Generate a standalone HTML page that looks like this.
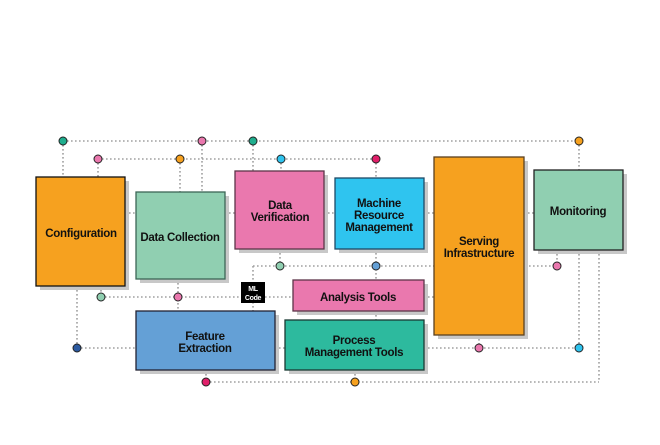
<!DOCTYPE html>
<html><head><meta charset="utf-8"><style>
html,body{margin:0;padding:0;background:#fff;}
svg text{font-family:"Liberation Sans",sans-serif;font-weight:bold;font-size:11.5px;fill:#111;text-anchor:middle;letter-spacing:-0.3px}
</style></head><body>
<svg width="660" height="440" viewBox="0 0 660 440" xmlns="http://www.w3.org/2000/svg">
<g stroke="#a0a0a0" stroke-width="1.6" stroke-dasharray="1.6 2.4" fill="none">
<path d="M63 141H579M98 159H376"/>
<path d="M63 141V177M98 159V177M180 159V192M202 141V192M253 141V171M281 159V171M376 159V178M579 141V170"/>
<path d="M125 213H136M225 213H235M324 213H335M424 213H434M524 213H534"/>
<path d="M253 266H557M253 266V311M280 249V266M376 249V280M557 250V266"/>
<path d="M101 297H293M101 286V297M178 279V311M424 297H434"/>
<path d="M77 348H136M77 286V348M275 348H285M424 348H579M479 335V348M579 250V348"/>
<path d="M206 382H599M599 250V382M206 370V382M355 370V382M376 311V320"/>
</g>
<g fill="#c8c8c8">
<rect x="40" y="181" width="89" height="109"/>
<rect x="140" y="196" width="89" height="87"/>
<rect x="239" y="175" width="89" height="78"/>
<rect x="339" y="182" width="89" height="71"/>
<rect x="438" y="161" width="90" height="178"/>
<rect x="538" y="174" width="89" height="80"/>
<rect x="297" y="284" width="131" height="31"/>
<rect x="140" y="315" width="139" height="59"/>
<rect x="289" y="324" width="139" height="50"/>
</g>
<g stroke="#333" stroke-width="1.3">
<rect x="36" y="177" width="89" height="109" fill="#f6a11f" stroke="#111"/>
<rect x="136" y="192" width="89" height="87" fill="#90cfb1" stroke="#3d6656"/>
<rect x="235" y="171" width="89" height="78" fill="#ea78ae" stroke="#5c3448"/>
<rect x="335" y="178" width="89" height="71" fill="#2fc4ef" stroke="#1d4a66"/>
<rect x="434" y="157" width="90" height="178" fill="#f6a11f" stroke="#5a4020"/>
<rect x="534" y="170" width="89" height="80" fill="#90cfb1" stroke="#222"/>
<rect x="293" y="280" width="131" height="31" fill="#ea78ae" stroke="#5c3448"/>
<rect x="136" y="311" width="139" height="59" fill="#64a0d6" stroke="#223"/>
<rect x="285" y="320" width="139" height="50" fill="#2dba9e" stroke="#1a3a33"/>
</g>
<rect x="241" y="282" width="24" height="21" fill="#000"/>
<text x="253" y="291" style="font-size:7px;fill:#fff">ML</text>
<text x="253" y="300" style="font-size:7px;fill:#fff">Code</text>
<text x="81" y="237">Configuration</text>
<text x="180" y="241">Data Collection</text>
<text x="280" y="209">Data</text><text x="280" y="221">Verification</text>
<text x="379" y="207">Machine</text><text x="379" y="219">Resource</text><text x="379" y="231">Management</text>
<text x="479" y="245">Serving</text><text x="479" y="257">Infrastructure</text>
<text x="578" y="215">Monitoring</text>
<text x="358" y="301">Analysis Tools</text>
<text x="205" y="340">Feature</text><text x="205" y="352">Extraction</text>
<text x="354" y="344">Process</text><text x="354" y="356">Management Tools</text>
<g stroke="#222" stroke-width="1">
<circle cx="63" cy="141" r="4" fill="#1fae8e"/>
<circle cx="202" cy="141" r="4" fill="#ea78ae"/>
<circle cx="253" cy="141" r="4" fill="#1fae8e"/>
<circle cx="579" cy="141" r="4" fill="#f6a11f"/>
<circle cx="98" cy="159" r="4" fill="#ea78ae"/>
<circle cx="180" cy="159" r="4" fill="#f6a11f"/>
<circle cx="281" cy="159" r="4" fill="#2fc4ef"/>
<circle cx="376" cy="159" r="4" fill="#e0206a"/>
<circle cx="280" cy="266" r="4" fill="#90cfb1"/>
<circle cx="376" cy="266" r="4" fill="#64a0d6"/>
<circle cx="557" cy="266" r="4" fill="#ea78ae"/>
<circle cx="101" cy="297" r="4" fill="#90cfb1"/>
<circle cx="178" cy="297" r="4" fill="#ea78ae"/>
<circle cx="77" cy="348" r="4" fill="#2c5aa0"/>
<circle cx="479" cy="348" r="4" fill="#ea78ae"/>
<circle cx="579" cy="348" r="4" fill="#2fc4ef"/>
<circle cx="206" cy="382" r="4" fill="#e0206a"/>
<circle cx="355" cy="382" r="4" fill="#f6a11f"/>
</g>
</svg>
</body></html>
